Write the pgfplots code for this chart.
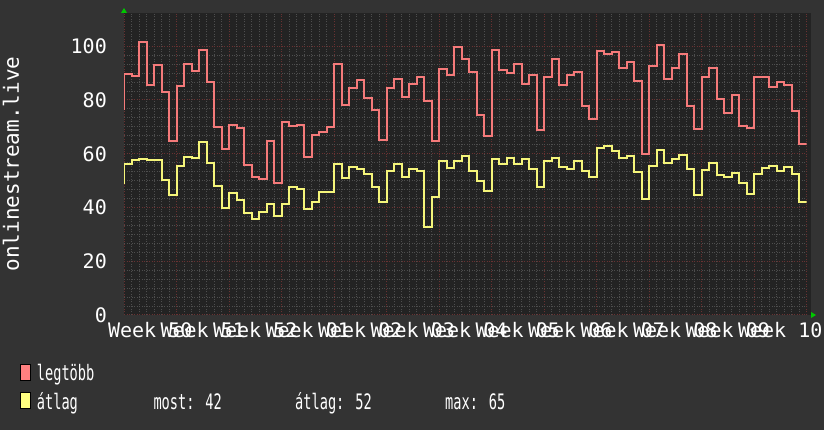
\documentclass[border=0pt]{standalone}
\usepackage{pgfplots}
\pgfplotsset{compat=1.18}
\usepackage{pgfplotstable}
\usepackage{fontspec}
\setmainfont{DejaVu Sans Mono}
\newfontfamily\monofont{DejaVu Sans Mono}
\newfontfamily\legfont[FakeStretch=0.64]{DejaVu Sans Mono}
\newcommand\tickfont{\monofont\fontsize{20bp}{24bp}\selectfont}
\newcommand\ylabfont{\monofont\fontsize{21bp}{25bp}\selectfont}
\newcommand\legendfont{\legfont\fontsize{21.3bp}{25bp}\selectfont}

\definecolor{canvas}{RGB}{51,51,51}
\definecolor{plotbg}{RGB}{35,35,35}
\definecolor{mingrid}{RGB}{78,78,78}
\definecolor{majgrid}{RGB}{105,50,50}
\definecolor{maxred}{RGB}{245,122,122}
\definecolor{avgyel}{RGB}{245,245,122}
\definecolor{boxred}{RGB}{255,128,128}
\definecolor{boxyel}{RGB}{255,255,128}
\definecolor{arrowgreen}{RGB}{0,200,0}

% daily values: legtobb = daily maximum, atlag = daily average
\pgfplotstableread{
day legtobb atlag
-1 76.5 49.2
0 89.8 56.0
1 88.9 57.8
2 101.6 58.2
3 85.5 57.5
4 92.9 57.5
5 83.0 50.4
6 64.7 44.5
7 85.2 55.3
8 93.4 58.7
9 90.7 58.3
10 98.6 64.5
11 86.7 56.7
12 70.0 47.9
13 61.6 39.7
14 70.6 45.3
15 69.6 42.9
16 55.7 38.1
17 51.3 35.6
18 50.5 38.3
19 64.7 41.3
20 49.0 36.7
21 71.8 41.4
22 70.3 47.8
23 70.7 47.0
24 58.8 39.5
25 66.9 42.0
26 68.1 45.9
27 70.0 45.9
28 93.5 56.3
29 78.0 51.0
30 84.5 55.1
31 87.4 54.5
32 80.7 52.6
33 76.3 47.6
34 65.1 42.0
35 84.5 53.5
36 87.7 56.1
37 81.1 51.2
38 86.1 54.5
39 88.6 53.5
40 79.6 32.7
41 64.7 43.8
42 91.4 57.2
43 89.4 54.7
44 99.6 57.4
45 95.1 59.3
46 90.4 53.7
47 74.3 49.8
48 66.6 46.0
49 98.5 58.2
50 91.2 56.0
51 90.2 58.6
52 93.4 56.0
53 86.1 58.2
54 89.3 54.5
55 68.8 47.6
56 88.6 57.4
57 95.1 58.6
58 85.5 55.0
59 89.3 54.5
60 90.6 57.3
61 77.8 53.7
62 73.1 51.2
63 98.1 62.1
64 97.2 62.8
65 97.9 61.2
66 91.8 58.3
67 94.0 59.0
68 87.0 53.1
69 59.8 43.3
70 92.7 55.3
71 100.3 61.5
72 87.7 56.5
73 91.8 58.1
74 97.0 59.7
75 77.7 54.2
76 69.1 44.6
77 88.5 53.8
78 91.8 56.4
79 80.2 52.0
80 75.1 51.2
81 81.7 53.0
82 70.5 49.0
83 69.5 44.9
84 88.5 52.3
85 88.5 54.7
86 85.0 55.3
87 86.6 53.5
88 85.5 55.0
89 75.8 52.3
90 63.8 42.0
91 63.8 42.0
}\datatable

\begin{document}
\begin{tikzpicture}
\fill[canvas] (0,0) rectangle (824bp,430bp);
\useasboundingbox (0,0) rectangle (824bp,430bp);
\fill[plotbg] (124bp,115bp) rectangle (810.5bp,416.5bp);

\begin{axis}[
  at={(124bp,115bp)}, anchor=south west,
  scale only axis, width=682.5bp, height=301bp,
  xmin=0, xmax=91, ymin=0, ymax=112,
  axis background/.style={fill=plotbg},
  axis line style={draw=none},
  xtick={0,7,...,91}, xticklabels={},
  minor x tick num=6,
  ytick={0,20,...,100},
  yticklabels={0,20,40,60,80,100},
  minor y tick num=5,
  major tick length=0pt, minor tick length=0pt,
  grid=both,
  minor grid style={mingrid, line width=1bp, dash pattern=on 1bp off 1.5bp},
  major grid style={majgrid, line width=1bp, dash pattern=on 1bp off 1.5bp},
  yticklabel style={font=\tickfont, text=white, anchor=east, inner sep=0pt, xshift=-17bp},
]
\addplot[const plot mark left, maxred, line width=2bp] table[x=day, y=legtobb] {\datatable};
\addplot[const plot mark left, avgyel, line width=2bp] table[x=day, y=atlag] {\datatable};
\end{axis}

% axis arrows
\fill[arrowgreen] (121bp,417bp) -- (127bp,417bp) -- (124bp,422bp) -- cycle;
\fill[arrowgreen] (811bp,112bp) -- (811bp,118bp) -- (816bp,115bp) -- cycle;

% week labels, centred on each week
\foreach \i/\w in {0/50,1/51,2/52,3/01,4/02,5/03,6/04,7/05,8/06,9/07,10/08,11/09,12/10}
  \node[font=\tickfont, text=white, anchor=north, inner sep=0pt]
    at ({150.25bp+52.5bp*\i},107.5bp) {Week \w};

% vertical axis title
\node[font=\ylabfont, text=white, rotate=90, inner sep=0pt] at (11bp,266bp) {onlinestream.live};

% legend
\filldraw[fill=boxred, draw=black, line width=1bp] (20bp,49bp) rectangle (30bp,65bp);
\filldraw[fill=boxyel, draw=black, line width=1bp] (20bp,21bp) rectangle (30bp,37bp);
\node[font=\legendfont, text=white, anchor=base west, inner sep=0pt] at (36.7bp,49bp) {legtöbb};
\node[font=\legendfont, text=white, anchor=base west, inner sep=0pt] at (36.7bp,21bp) {átlag};
\node[font=\legendfont, text=white, anchor=base west, inner sep=0pt] at (153.3bp,21bp) {most: 42};
\node[font=\legendfont, text=white, anchor=base west, inner sep=0pt] at (295bp,21bp) {átlag: 52};
\node[font=\legendfont, text=white, anchor=base west, inner sep=0pt] at (445bp,21bp) {max: 65};
\end{tikzpicture}
\end{document}
